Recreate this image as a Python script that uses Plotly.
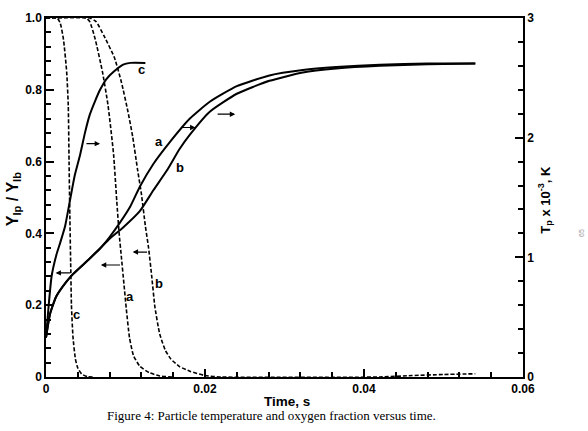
import plotly.graph_objects as go

# ---- data (time in s) ----
# particle temperature Tp x 1e-3 K (right axis)
t_sc = [0, 0.0003, 0.0007, 0.0013, 0.0018, 0.0024, 0.003, 0.0036, 0.0043, 0.0049, 0.0055,
        0.0062, 0.0068, 0.0076, 0.0085, 0.0097, 0.0106, 0.0125]
T_c = [0.33, 0.57, 0.84, 1.02, 1.125, 1.26, 1.47, 1.68, 1.86, 2.04, 2.19,
       2.31, 2.40, 2.49, 2.55, 2.61, 2.625, 2.625]

t_sa = [0, 0.0005, 0.0013, 0.0026, 0.0034, 0.0055, 0.0068, 0.008, 0.0093, 0.0106, 0.0118,
        0.0135, 0.0156, 0.0181, 0.0206, 0.024, 0.0281, 0.0323, 0.0365, 0.042, 0.048, 0.054]
T_a = [0.33, 0.525, 0.675, 0.80, 0.86, 0.99, 1.074, 1.17, 1.29, 1.425, 1.59,
       1.78, 1.965, 2.16, 2.30, 2.43, 2.52, 2.565, 2.59, 2.61, 2.62, 2.62]

t_sb = [0, 0.0005, 0.0013, 0.0026, 0.0034, 0.0055, 0.0068, 0.008, 0.0097, 0.0118, 0.0135,
        0.0152, 0.0168, 0.0181, 0.0206, 0.024, 0.0281, 0.0323, 0.0365, 0.042, 0.048, 0.054]
T_b = [0.33, 0.525, 0.675, 0.80, 0.86, 0.99, 1.074, 1.155, 1.25, 1.386, 1.56,
       1.725, 1.905, 2.025, 2.217, 2.367, 2.475, 2.544, 2.577, 2.60, 2.613, 2.62]

# oxygen fraction Y1p/Y1b (left axis)
t_dc = [0, 0.0014, 0.0018, 0.0022, 0.0026, 0.0028, 0.0029, 0.0030, 0.0031, 0.0032, 0.0034,
        0.0037, 0.0040, 0.0045, 0.0052, 0.006]
Y_c = [1, 1, 0.985, 0.94, 0.85, 0.757, 0.6, 0.45, 0.32, 0.2, 0.11,
       0.05, 0.025, 0.008, 0.001, 0]

t_da = [0, 0.005, 0.0055, 0.0062, 0.0071, 0.0078, 0.0085, 0.0089, 0.0092, 0.0095, 0.0098,
        0.0101, 0.0105, 0.0110, 0.0118, 0.0130, 0.0143, 0.016]
Y_a = [1, 1, 0.99, 0.94, 0.85, 0.757, 0.62, 0.49, 0.40, 0.33, 0.26,
       0.19, 0.11, 0.06, 0.03, 0.012, 0.003, 0]

t_db = [0, 0.0055, 0.0063, 0.0073, 0.0086, 0.0095, 0.0103, 0.0109, 0.0115, 0.0120, 0.0125,
        0.0129, 0.0133, 0.0137, 0.0143, 0.0150, 0.0157, 0.0168, 0.0181, 0.0200, 0.022,
        0.042, 0.046, 0.050, 0.054]
Y_b = [1, 1, 0.99, 0.95, 0.89, 0.82, 0.74, 0.67, 0.58, 0.51, 0.42,
       0.36, 0.28, 0.195, 0.12, 0.075, 0.05, 0.029, 0.016, 0.004, 0.0,
       0.0, 0.004, 0.007, 0.009]

x_ticks = [0, 0.02, 0.04, 0.06]
yl_ticks = [0, 0.2, 0.4, 0.6, 0.8, 1.0]
yl_alias = {"1": "1.0"}
yr_ticks = [0, 1, 2, 3]

fig = go.Figure()
solid = dict(color="black", width=2, shape="spline", smoothing=0.5)
dash = dict(color="black", width=1.6, dash="4px,2px", shape="spline", smoothing=0.5)

for tx, ty in [(t_sc, T_c), (t_sa, T_a), (t_sb, T_b)]:
    fig.add_trace(go.Scatter(x=tx, y=ty, mode="lines", line=solid, yaxis="y2", showlegend=False))
for tx, ty in [(t_dc, Y_c), (t_da, Y_a), (t_db, Y_b)]:
    fig.add_trace(go.Scatter(x=tx, y=ty, mode="lines", line=dash, yaxis="y", showlegend=False))

lab_font = dict(family="Liberation Sans", size=13, color="black", weight="bold")
labels = [("c", 0.0120, 0.857), ("a", 0.01424, 0.657), ("b", 0.01684, 0.584),
          ("c", 0.00386, 0.175), ("a", 0.01056, 0.225), ("b", 0.01424, 0.261)]
for txt, lx, ly in labels:
    fig.add_annotation(x=lx, y=ly, xref="x", yref="y", text=txt,
                       showarrow=False, font=lab_font)

# arrows: (tail x, head x, y)
arrows = [(0.0049, 0.0068, 0.65), (0.0168, 0.0188, 0.695), (0.0214, 0.0238, 0.732),
          (0.0032, 0.0012, 0.29), (0.0095, 0.0069, 0.312), (0.0129, 0.0109, 0.348)]
for tx0, hx, ay in arrows:
    fig.add_annotation(x=hx, y=ay, ax=tx0, ay=ay, xref="x", yref="y", axref="x", ayref="y",
                       text="", showarrow=True, arrowhead=2, arrowsize=0.9, arrowwidth=1.2,
                       arrowcolor="black")

tick_font = dict(family="Liberation Sans", size=12, color="black", weight="bold")
fig.update_layout(
    width=588, height=431,
    margin=dict(l=46, r=64.5, t=11, b=53.5),
    paper_bgcolor="white", plot_bgcolor="white",
)
fig.update_xaxes(range=[x_ticks[0], x_ticks[-1]], tickmode="linear", tick0=0,
                 dtick=x_ticks[1] - x_ticks[0], mirror=True,
                 ticks="inside", ticklen=8, tickwidth=2, tickcolor="black",
                 minor=dict(dtick=0.004, tick0=0, ticks="inside", ticklen=5, tickwidth=2,
                            tickcolor="black"),
                 showline=True, linecolor="black", linewidth=1.5,
                 showgrid=False, zeroline=False, tickfont=tick_font)
fig.update_layout(
    yaxis=dict(range=[yl_ticks[0], yl_ticks[-1]], tickmode="linear", tick0=0,
               dtick=yl_ticks[1] - yl_ticks[0], labelalias=yl_alias,
               ticks="inside", ticklen=8, tickwidth=2, tickcolor="black",
               minor=dict(dtick=0.04, tick0=0, ticks="inside", ticklen=5, tickwidth=2,
                          tickcolor="black"),
               showline=True, linecolor="black", linewidth=1.5,
               showgrid=False, zeroline=False, tickfont=tick_font),
    yaxis2=dict(range=[yr_ticks[0], yr_ticks[-1]], overlaying="y", side="right",
                tickmode="linear", tick0=0, dtick=yr_ticks[1] - yr_ticks[0],
                ticks="inside", ticklen=8, tickwidth=2, tickcolor="black",
                minor=dict(dtick=0.2, tick0=0, ticks="inside", ticklen=5, tickwidth=2,
                           tickcolor="black"),
                showline=True, linecolor="black", linewidth=1.5,
                showgrid=False, zeroline=False, tickfont=tick_font),
)

fig.add_annotation(x=287, y=403, xref="paper", yref="paper", text="<b>Time, s</b>",
                   showarrow=False, font=dict(family="Liberation Sans", size=13.5, color="black"))
fig.add_annotation(x=13, y=196, xref="paper", yref="paper", textangle=-90,
                   text="<b>Y<sub>Ip</sub> / Y<sub>Ib</sub></b>",
                   showarrow=False, font=dict(family="Liberation Sans", size=16, color="black"))
fig.add_annotation(x=546, y=196, xref="paper", yref="paper", textangle=-90,
                   text="<b>T<sub>p</sub> x 10<sup>-3</sup>, K</b>",
                   showarrow=False, font=dict(family="Liberation Sans", size=13, color="black"))
fig.add_annotation(x=272, y=417, xref="paper", yref="paper",
                   text="Figure 4: Particle temperature and oxygen fraction versus time.",
                   showarrow=False, font=dict(family="Liberation Serif", size=13, color="black"))
fig.add_annotation(x=582, y=230, xref="paper", yref="paper", textangle=-90, text="65",
                   showarrow=False, font=dict(family="Liberation Sans", size=7, color="#999999"))

# convert pixel-positioned annotations to paper coords
pw, ph = 588 - 46 - 64.5, 431 - 11 - 53.5
for ann in fig.layout.annotations:
    if ann.xref == "paper":
        px, py = ann.x, ann.y
        ann.x = (px - 46) / pw
        ann.y = (377.5 - py) / ph
        ann.xanchor = "center"
        ann.yanchor = "middle"

fig.write_html("out.html")
